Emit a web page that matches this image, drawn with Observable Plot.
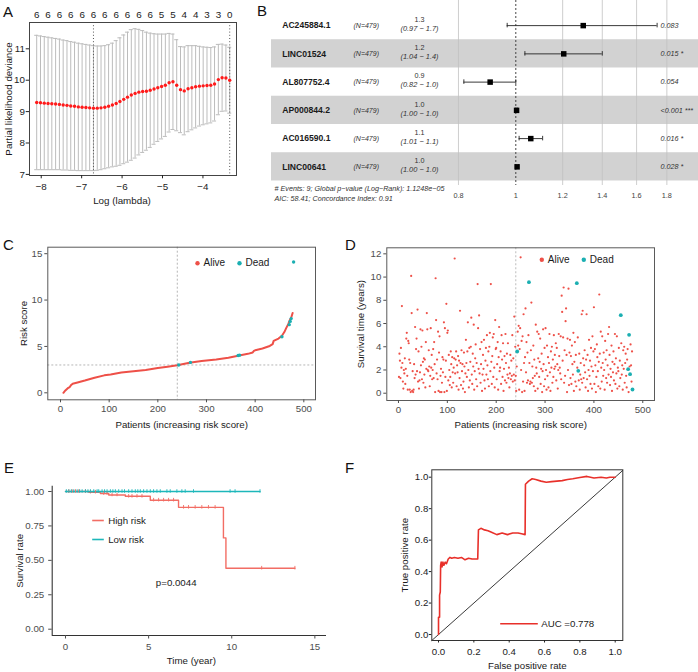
<!DOCTYPE html>
<html><head><meta charset="utf-8">
<script src="https://cdn.jsdelivr.net/npm/d3@7"></script>
<script src="https://cdn.jsdelivr.net/npm/@observablehq/plot@0.6"></script>
<style>
html,body{margin:0;padding:0;background:#fff;}
#fig{position:relative;width:698px;height:672px;overflow:hidden;font-family:"Liberation Sans",Arial,Helvetica,sans-serif;}
.panel{position:absolute;}
.tag{position:absolute;font-size:15px;line-height:15px;color:#111;}
</style></head><body>
<div id="fig"></div>
<script>
// ================= DATA =================
// Panel A: LASSO cross-validation
const logLambda = [-8.112,-8.018,-7.925,-7.831,-7.738,-7.644,-7.550,-7.457,-7.363,-7.270,-7.176,-7.082,-6.989,-6.895,-6.802,-6.708,-6.614,-6.521,-6.427,-6.334,-6.240,-6.146,-6.053,-5.959,-5.866,-5.772,-5.678,-5.585,-5.491,-5.398,-5.304,-5.210,-5.117,-5.023,-4.930,-4.836,-4.742,-4.649,-4.555,-4.462,-4.368,-4.274,-4.181,-4.087,-3.994,-3.900,-3.806,-3.713,-3.619,-3.526,-3.432,-3.338];
const cvMean = [9.29,9.28,9.27,9.26,9.25,9.24,9.23,9.21,9.20,9.18,9.17,9.15,9.14,9.13,9.12,9.11,9.11,9.12,9.14,9.17,9.21,9.26,9.32,9.39,9.46,9.53,9.58,9.62,9.64,9.65,9.68,9.72,9.76,9.80,9.84,9.92,9.95,9.84,9.70,9.66,9.73,9.76,9.79,9.81,9.82,9.83,9.84,9.88,10.02,10.08,10.07,10.00];
const cvSD = [2.14,2.13,2.12,2.11,2.10,2.09,2.08,2.07,2.06,2.05,2.04,2.03,2.02,2.01,2.00,1.99,1.98,1.97,1.96,1.96,1.97,2.00,2.03,2.05,2.07,2.08,2.06,2.00,1.94,1.88,1.82,1.76,1.71,1.67,1.63,1.57,1.52,1.45,1.37,1.40,1.37,1.34,1.31,1.27,1.24,1.22,1.20,1.18,1.12,1.07,1.05,1.05];
const nzeroLabels = ["6","6","6","6","6","6","6","6","6","6","6","5","5","4","4","3","3","0"];
const lambdaLines = [-6.708, -3.338];
const aTicksX = [-8,-7,-6,-5,-4];
const aTicksY = [7,8,9,10,11];

// Panel B: multivariate Cox forest plot
const forestNames = ["AC245884.1","LINC01524","AL807752.4","AP000844.2","AC016590.1","LINC00641"];
const forestN = ["(N=479)","(N=479)","(N=479)","(N=479)","(N=479)","(N=479)"];
const forestHR = [1.30, 1.205, 0.905, 1.003, 1.06, 1.005];
const forestLo = [0.967, 1.036, 0.817, 1.0, 1.013, 1.0];
const forestHi = [1.733, 1.40, 1.0, 1.006, 1.11, 1.01];
const forestHRText = ["1.3","1.2","0.9","1.0","1.1","1.0"];
const forestCIText = ["(0.97 − 1.7)","(1.04 − 1.4)","(0.82 − 1.0)","(1.00 − 1.0)","(1.01 − 1.1)","(1.00 − 1.0)"];
const forestP = ["0.083","0.015 *","0.054","<0.001 ***","0.016 *","0.028 *"];
const forestTicks = [0.8, 1, 1.2, 1.4, 1.6, 1.8];
const forestGrid = [0.8, 1.2, 1.4, 1.6, 1.8];
const forestFooter = ["# Events: 9; Global p−value (Log−Rank): 1.1248e−05", "AIC: 58.41; Concordance Index: 0.91"];

// Panel C: risk score curve
const riskRank = [6,10,15,19,22,25,35,50,70,90,103,125,150,175,200,220,240,265,290,320,345,365,385,395,398,415,430,436,438,448,455,460,464,468,471,474,477];
const riskScore = [0.0,0.25,0.5,0.62,0.85,0.98,1.12,1.32,1.62,1.88,1.98,2.18,2.32,2.45,2.68,2.82,2.98,3.25,3.43,3.6,3.78,4.0,4.2,4.35,4.55,4.78,5.05,5.25,5.6,5.85,6.15,6.55,7.0,7.4,7.8,8.1,8.6];
const deadRank = [243,267,365,368,455,470,472,474,479];
const deadScore = [3.0,3.28,4.02,4.06,6.05,7.35,7.7,8.0,14.1];
const deadTime = [3.59,9.56,9.47,1.93,6.72,2.07,5.03,1.64,0.32];
const cutoffRank = 240;
const cutoffScore = 3.0;
const statusLabels = ["Alive","Dead"];

// Panel D: survival time by patient rank (index + 1)
const survTime = [
 1.4,3.4,2.8,1.3,3.9,2.2,7.5,2.6,1.0,0.4,2.0,1.7,3.0,0.8,2.1,4.7,5.2,1.5,0.3,4.5,
 4.3,2.9,0.3,2.6,0.1,10.1,6.9,0.2,1.9,0.1,0.3,2.5,1.3,5.7,1.6,3.8,4.7,1.9,7.2,1.0,
 3.6,0.4,1.1,1.8,5.5,2.4,4.0,1.2,5.4,2.7,0.9,3.0,1.6,2.9,0.5,4.4,2.1,6.9,5.5,2.0,
 1.9,3.7,2.3,0.6,1.5,5.6,2.2,3.3,1.2,2.0,3.8,1.3,4.4,2.5,0.1,9.9,6.3,1.7,2.9,1.2,
 5.3,0.2,3.5,4.9,0.1,1.5,2.1,0.1,0.9,3.1,1.8,2.9,6.1,0.1,5.6,1.4,2.8,7.7,0.2,5.2,
 5.4,1.1,3.3,2.0,0.7,1.4,3.6,2.5,0.5,3.1,1.8,0.9,2.2,3.0,11.6,1.7,2.9,3.6,0.6,2.4,
 1.8,3.2,0.3,2.8,1.3,7.1,2.6,0.7,3.7,1.9,2.5,0.4,1.0,3.5,2.3,0.1,1.7,4.6,2.6,1.4,
 3.6,6.1,2.0,0.5,3.9,1.1,2.7,4.0,6.5,1.6,0.8,3.4,2.3,5.9,0.3,1.9,3.0,4.2,1.2,2.6,
 0.6,9.4,5.6,2.1,6.7,1.7,3.8,0.9,2.5,4.4,0.2,1.6,3.3,2.1,4.6,1.1,0.4,2.8,3.9,1.6,
 5.0,2.4,1.2,3.6,0.6,4.0,5.2,1.9,9.4,2.7,0.8,3.2,4.8,1.4,5.1,2.2,0.5,6.3,3.8,3.9,
 1.2,2.5,4.4,0.3,3.1,5.7,1.9,2.2,3.6,0.8,5.0,2.9,1.4,4.3,0.2,2.1,3.2,1.1,5.1,2.6,
 0.9,3.4,1.6,4.3,1.3,2.2,0.5,1.7,3.3,1.2,2.8,1.5,5.0,1.0,3.0,1.6,6.6,1.1,4.0,1.5,
 0.2,2.3,3.59,5.3,4.1,5.8,0.3,3.8,5.6,11.7,2.0,4.5,0.1,4.9,1.0,6.8,2.6,0.2,3.1,7.3,
 1.8,4.4,0.9,3.5,1.1,5.0,9.56,2.6,0.8,1.0,3.7,7.8,0.9,2.3,1.3,4.1,0.6,2.9,1.5,0.2,
 5.9,2.2,1.7,5.3,0.4,3.0,5.1,1.4,2.7,4.7,0.8,2.1,3.4,0.1,1.9,5.5,2.5,0.6,3.9,1.2,
 5.6,2.0,0.3,4.1,1.5,3.1,0.5,2.6,5.1,1.8,0.2,3.6,2.2,4.0,0.9,2.9,1.4,5.0,2.1,3.3,
 2.3,4.3,1.1,3.9,2.5,0.4,2.0,5.1,3.2,2.2,1.7,4.9,1.2,8.4,7.0,2.8,4.8,9.1,0.9,3.7,
 1.5,6.2,7.3,3.3,0.1,4.7,2.0,9.0,0.7,3.5,4.6,1.3,3.2,0.8,4.1,2.5,1.6,5.2,0.2,2.7,
 4.4,1.0,3.3,0.6,9.47,2.2,4.8,1.93,1.1,3.4,0.3,1.6,2.6,1.2,6.8,0.9,7.1,3.0,1.3,2.4,
 3.7,1.8,0.5,2.9,6.8,1.2,3.3,0.2,2.0,4.6,1.5,2.8,0.8,3.9,2.3,0.4,4.9,1.9,3.6,7.4,
 0.8,3.8,2.4,0.1,1.4,4.2,3.1,1.9,0.6,2.7,8.5,3.4,0.4,5.3,2.2,1.0,4.9,2.6,1.5,3.5,
 2.0,0.3,4.5,2.9,1.3,3.7,0.9,2.4,5.1,1.6,5.7,3.3,0.7,2.1,1.4,4.1,0.2,2.7,1.8,3.6,
 1.1,2.5,5.1,0.8,3.0,1.7,4.9,0.4,2.2,1.9,3.9,0.6,2.8,1.3,6.72,4.3,1.6,2.4,0.3,3.7,
 2.1,4.0,0.9,2.6,3.4,1.5,0.5,2.9,3.8,2.07,0.1,5.03,2.3,1.64,4.2,2.4,1.0,3.6,0.32
];

// Panel E: Kaplan-Meier
const highTime = [0, 1.4, 2.1, 2.6, 3.6, 5.1, 6.8, 9.5, 9.65, 13.8];
const highSurv = [1, 0.995, 0.985, 0.975, 0.965, 0.937, 0.885, 0.663, 0.443, 0.443];
const lowTime = [0, 11.7];
const lowSurv = [1, 1];
const highCensor = [0.2,0.4,0.6,0.8,1.2,1.5,1.8,2.3,2.5,2.8,3.1,3.8,4.0,4.3,4.6,5.3,5.6,5.9,6.2,6.5,7.1,7.4,7.8,8.2,8.6,9.0,11.8,13.8];
const lowCensor = [0.05,0.2,0.35,0.5,0.7,0.85,1.0,1.2,1.35,1.5,1.7,1.9,2.0,2.2,2.35,2.5,2.7,2.85,3.0,3.2,3.4,3.55,3.8,4.0,4.2,4.35,4.5,4.7,4.9,5.1,5.3,5.5,5.7,6.1,6.3,6.7,7.0,7.2,7.7,9.9,10.2,11.7];
const groupLabels = ["High risk","Low risk"];
const pValueText = "p=0.0044";

// Panel F: ROC
const rocFPR = [0,0,0.006,0.006,0.01,0.012,0.015,0.02,0.025,0.03,0.038,0.045,0.055,0.065,0.075,0.09,0.11,0.13,0.15,0.17,0.19,0.21,0.222,0.226,0.24,0.26,0.28,0.3,0.33,0.36,0.39,0.42,0.45,0.47,0.49,0.492,0.51,0.53,0.55,0.58,0.61,0.64,0.67,0.7,0.73,0.76,0.8,0.84,0.88,0.92,0.95,0.97,1.0];
const rocTPR = [0,0.11,0.11,0.25,0.27,0.44,0.46,0.43,0.46,0.44,0.46,0.45,0.48,0.49,0.485,0.49,0.485,0.49,0.475,0.485,0.48,0.48,0.48,0.665,0.675,0.665,0.66,0.65,0.635,0.645,0.635,0.645,0.645,0.64,0.635,0.955,0.975,0.99,0.985,0.975,0.968,0.972,0.975,0.978,0.985,0.99,0.998,1.005,0.995,1.0,0.995,1.0,1.0];
const aucText = "AUC =0.778";

// ================= STYLE / LAYOUT =================
const FONT = '"Liberation Sans", Arial, Helvetica, sans-serif';
const RED = "#EE5048", TEAL = "#1BAFB2";
const KM_RED = "#F26D64", KM_TEAL = "#1DB7BA";
const ROC_RED = "#E8302A";
const fig = document.getElementById("fig");
function style(size){ return {fontFamily: FONT, fontSize: size + "px", background: "transparent", overflow: "visible", color: "#1a1a1a"}; }
function place(svg, left, top){ const d = document.createElement("div"); d.className = "panel"; d.style.left = left + "px"; d.style.top = top + "px"; d.appendChild(svg); fig.appendChild(d); }
function tag(t, left, top){ const d = document.createElement("div"); d.className = "tag"; d.textContent = t; d.style.left = left + "px"; d.style.top = top + "px"; fig.appendChild(d); }
const lineSymbol = {draw(ctx, size){ const h = Math.sqrt(size / Math.PI); ctx.moveTo(-h, 0); ctx.lineTo(h, 0); }};
function stepAt(times, surv, t){ let s = surv[0]; for (let i = 0; i < times.length; i++) if (times[i] <= t) s = surv[i]; return s; }
const MID = {textAnchor: "middle", lineAnchor: "middle"};
function xTitle(label, dy, dx = 0){ return Plot.text([label], {text: d => d, frameAnchor: "bottom", dy, dx, ...MID, fill: "#1a1a1a"}); }
function yTitle(label, dx){ return Plot.text([label], {text: d => d, frameAnchor: "left", rotate: -90, dx, ...MID, fill: "#1a1a1a"}); }

// ================= PANEL A =================
const aPts = logLambda.map((x, i) => ({x, m: cvMean[i], lo: cvMean[i] - cvSD[i], hi: cvMean[i] + cvSD[i]}));
const capW = 0.05;
place(Plot.plot({
  width: 240, height: 212, marginLeft: 29, marginRight: 4, marginTop: 22, marginBottom: 37,
  style: style(9.8),
  x: {domain: [-8.29, -3.17], axis: null},
  y: {domain: [6.965, 11.838], axis: null},
  marks: [
    Plot.ruleX(aPts, {x: "x", y1: "lo", y2: "hi", stroke: "#bcbcbc", strokeWidth: 1}),
    Plot.ruleY(aPts, {y: "hi", x1: d => d.x - capW, x2: d => d.x + capW, stroke: "#bcbcbc"}),
    Plot.ruleY(aPts, {y: "lo", x1: d => d.x - capW, x2: d => d.x + capW, stroke: "#bcbcbc"}),
    Plot.ruleX(lambdaLines, {stroke: "#555", strokeDasharray: "1,2.2"}),
    Plot.dot(aPts, {x: "x", y: "m", r: 1.7, fill: "#ff1a1a"}),
    Plot.frame({stroke: "#444"}),
    Plot.axisX(aTicksX, {tickSize: 3.3, tickPadding: 4.5, label: null, color: "#222"}),
    Plot.axisY(aTicksY, {tickSize: 3.3, tickPadding: 1.2, label: null, color: "#222"}),
    Plot.text(nzeroLabels, {x: (d, i) => logLambda[i * 3], text: d => d, frameAnchor: "top", dy: -8, ...MID, fill: "#222"}),
    xTitle("Log (lambda)", 25, -11),
    yTitle("Partial likelihood deviance", -21)
  ]
}), 0, 0);

// ================= PANEL B =================
const rows = forestNames.map((name, i) => ({i, name, n: forestN[i], hr: forestHR[i], lo: forestLo[i], hi: forestHi[i], hrT: forestHRText[i], ciT: forestCIText[i], p: forestP[i]}));
const bX = [0.3865, 2.0358];
place(Plot.plot({
  width: 468, height: 215, marginLeft: 41, marginRight: 0, marginTop: 0, marginBottom: 30,
  style: style(7.3),
  x: {type: "log", domain: bX, axis: null},
  y: {domain: [-0.889, 5.66], reverse: true, axis: null},
  marks: [
    Plot.rect(rows.filter(d => d.i % 2 === 1), {x1: () => bX[0], x2: () => bX[1], y1: d => d.i - 0.5, y2: d => d.i + 0.5, fill: "#d2d2d2"}),
    Plot.ruleX(forestGrid, {stroke: "#c2c2c2", strokeWidth: 0.8}),
    Plot.ruleX([1], {stroke: "#333", strokeDasharray: "2,2", strokeWidth: 0.9}),
    Plot.ruleY(rows, {y: "i", x1: "lo", x2: "hi", stroke: "#222", strokeWidth: 0.9}),
    Plot.ruleX(rows, {x: "lo", y1: d => d.i - 0.08, y2: d => d.i + 0.08, stroke: "#222", strokeWidth: 0.9}),
    Plot.ruleX(rows, {x: "hi", y1: d => d.i - 0.08, y2: d => d.i + 0.08, stroke: "#222", strokeWidth: 0.9}),
    Plot.dot(rows, {x: "hr", y: "i", symbol: "square", r: 3.1, fill: "#000"}),
    Plot.text(rows, {y: "i", text: "name", frameAnchor: "left", dx: 10.7, textAnchor: "start", lineAnchor: "middle", fontWeight: "bold", fontSize: 8.6, fill: "#1a1a1a"}),
    Plot.text(rows, {y: "i", text: "n", frameAnchor: "left", dx: 82, textAnchor: "start", lineAnchor: "middle", fontStyle: "italic", fontSize: 7, fill: "#333"}),
    Plot.text(rows, {y: "i", text: "hrT", frameAnchor: "left", dx: 148, dy: -6, ...MID, fontSize: 7.2, fill: "#333"}),
    Plot.text(rows, {y: "i", text: "ciT", frameAnchor: "left", dx: 148, dy: 2.8, ...MID, fontStyle: "italic", fontSize: 7.4, fill: "#333"}),
    Plot.text(rows, {y: "i", text: "p", frameAnchor: "left", dx: 389, textAnchor: "start", lineAnchor: "middle", fontStyle: "italic", fontSize: 7.2, fill: "#333"}),
    Plot.text(forestTicks, {x: d => d, text: d => String(d), frameAnchor: "bottom", dy: 10, ...MID, fontSize: 7.3, fill: "#444"}),
    Plot.text([forestFooter[0]], {text: d => d, frameAnchor: "bottom-left", dx: 3, dy: 3.5, textAnchor: "start", lineAnchor: "middle", fontStyle: "italic", fontSize: 7.2, fill: "#333"}),
    Plot.text([forestFooter[1]], {text: d => d, frameAnchor: "bottom-left", dx: 3, dy: 13.5, textAnchor: "start", lineAnchor: "middle", fontStyle: "italic", fontSize: 7.2, fill: "#333"})
  ]
}), 230, 0);

// ================= PANEL C =================
const riskCurve = riskRank.map((r, i) => ({r, s: riskScore[i]}));
const deadC = deadRank.map((r, i) => ({r, s: deadScore[i]}));
function legendDots(dxs, dy, colors){
  return statusLabels.flatMap((lab, i) => [
    Plot.dot([lab], {frameAnchor: "top-left", dx: dxs[i], dy, r: 2.2, fill: colors[i]}),
    Plot.text([lab], {frameAnchor: "top-left", dx: dxs[i] + 6, dy, text: d => d, textAnchor: "start", lineAnchor: "middle", fontSize: 10, fill: "#1a1a1a"})
  ]);
}
place(Plot.plot({
  width: 349, height: 225, marginLeft: 47.3, marginRight: 34, marginTop: 31.7, marginBottom: 40.7,
  style: style(9.7),
  x: {domain: [-26.1, 524], axis: null},
  y: {domain: [-0.755, 15.7], axis: null},
  marks: [
    Plot.ruleX([cutoffRank], {stroke: "#b5b5b5", strokeDasharray: "2,2"}),
    Plot.ruleY([cutoffScore], {stroke: "#b5b5b5", strokeDasharray: "2,2"}),
    Plot.line(riskCurve, {x: "r", y: "s", stroke: RED, strokeWidth: 2}),
    Plot.dot(deadC, {x: "r", y: "s", r: 1.7, fill: TEAL}),
    Plot.frame({stroke: "#5a5a5a"}),
    Plot.axisX([0,100,200,300,400,500], {tickSize: 3, tickPadding: 2.5, label: null, color: "#4d4d4d"}),
    Plot.axisY([0,5,10,15], {tickSize: 3, tickPadding: 2.5, label: null, color: "#4d4d4d"}),
    ...legendDots([149.7, 191.7], 16, [RED, TEAL]),
    xTitle("Patients (increasing risk score)", 25),
    yTitle("Risk score", -24.3)
  ]
}), 0, 215);

// ================= PANEL D =================
const deadSet = new Set(deadRank);
const aliveD = survTime.map((t, i) => ({r: i + 1, t})).filter(d => !deadSet.has(d.r));
const deadD = deadRank.map((r, i) => ({r, t: deadTime[i]}));
place(Plot.plot({
  width: 349, height: 225, marginLeft: 37.3, marginRight: 44, marginTop: 32.3, marginBottom: 40,
  style: style(9.7),
  x: {domain: [-23.9, 524], axis: null},
  y: {domain: [-0.628, 12.52], axis: null},
  marks: [
    Plot.ruleX([cutoffRank], {stroke: "#c8c8c8", strokeDasharray: "2,2", strokeWidth: 1.2}),
    Plot.dot(aliveD, {x: "r", y: "t", r: 1.1, fill: RED}),
    Plot.dot(deadD, {x: "r", y: "t", r: 1.9, fill: TEAL}),
    Plot.frame({stroke: "#5a5a5a"}),
    Plot.axisX([0,100,200,300,400,500], {tickSize: 3, tickPadding: 2.5, label: null, color: "#4d4d4d"}),
    Plot.axisY([0,2,4,6,8,10,12], {tickSize: 3, tickPadding: 2.5, label: null, color: "#4d4d4d"}),
    ...legendDots([155, 197], 12, [RED, TEAL]),
    xTitle("Patients (increasing risk score)", 24.3),
    yTitle("Survival time (years)", -25.6)
  ]
}), 349, 215);

// ================= PANEL E =================
const highKM = highTime.map((t, i) => ({t, s: highSurv[i]}));
const lowKM = lowTime.map((t, i) => ({t, s: lowSurv[i]}));
const highC = highCensor.map(t => ({t, s: stepAt(highTime, highSurv, t)}));
const lowC = lowCensor.map(t => ({t, s: stepAt(lowTime, lowSurv, t)}));
const eX = [-0.8, 15.7], eY = [-0.0458, 1.0385];
const kmColors = [KM_RED, KM_TEAL];
place(Plot.plot({
  width: 349, height: 232, marginLeft: 51.7, marginRight: 23, marginTop: 45.7, marginBottom: 37,
  style: style(9.7),
  x: {domain: eX, axis: null},
  y: {domain: eY, axis: null},
  marks: [
    Plot.ruleX([eX[0]], {stroke: "#333", strokeWidth: 1.1}),
    Plot.ruleY([eY[0]], {stroke: "#333", strokeWidth: 1.1}),
    Plot.line(highKM, {x: "t", y: "s", curve: "step-after", stroke: KM_RED, strokeWidth: 1.4}),
    Plot.line(lowKM, {x: "t", y: "s", curve: "step-after", stroke: KM_TEAL, strokeWidth: 1.4}),
    Plot.ruleX(highC, {x: "t", y1: d => d.s - 0.013, y2: d => d.s + 0.013, stroke: KM_RED, strokeWidth: 0.9}),
    Plot.ruleX(lowC, {x: "t", y1: d => d.s - 0.013, y2: d => d.s + 0.013, stroke: KM_TEAL, strokeWidth: 0.9}),
    Plot.axisX([0,5,10,15], {tickSize: 3.5, tickPadding: 4.5, label: null, color: "#4d4d4d"}),
    Plot.axisY([0,0.25,0.5,0.75,1], {tickSize: 3.5, tickPadding: 4.5, label: null, tickFormat: d3.format(".2f"), color: "#4d4d4d"}),
    ...groupLabels.flatMap((lab, i) => [
      Plot.dot([lab], {frameAnchor: "top-left", dx: 45.8, dy: 34.3 + 19 * i, r: 5.8, symbol: lineSymbol, stroke: kmColors[i], strokeWidth: 1.6, fill: "none"}),
      Plot.text([lab], {frameAnchor: "top-left", dx: 56, dy: 34.3 + 19 * i, text: d => d, textAnchor: "start", lineAnchor: "middle", fill: "#1a1a1a"})
    ]),
    Plot.text([pValueText], {text: d => d, frameAnchor: "top-left", dx: 124, dy: 96.6, ...MID, fill: "#1a1a1a"}),
    xTitle("Time (year)", 25, 2),
    yTitle("Survival rate", -32.7)
  ]
}), 0, 440);

// ================= PANEL F =================
const roc = rocFPR.map((f, i) => ({f, t: rocTPR[i]}));
const fX = [-0.038, 1.043], fY = [-0.038, 1.047];
const diag = [fX[0], fX[1]].map(v => ({f: v, t: v}));
place(Plot.plot({
  width: 349, height: 232, marginLeft: 82.3, marginRight: 75.7, marginTop: 29.3, marginBottom: 32,
  style: style(9.7),
  x: {domain: fX, axis: null},
  y: {domain: fY, axis: null},
  marks: [
    Plot.line(diag, {x: "f", y: "t", stroke: "#222", strokeWidth: 0.9}),
    Plot.line(roc, {x: "f", y: "t", stroke: ROC_RED, strokeWidth: 1.6}),
    Plot.frame({stroke: "#333"}),
    Plot.axisX([0,0.2,0.4,0.6,0.8,1], {tickSize: 2.5, tickPadding: 5.5, label: null, tickFormat: d3.format(".1f"), color: "#222"}),
    Plot.axisY([0,0.2,0.4,0.6,0.8,1], {tickSize: 2.5, tickPadding: 1, label: null, tickFormat: d3.format(".1f"), color: "#222"}),
    Plot.dot([aucText], {frameAnchor: "top-left", dx: 87.2, dy: 154, r: 18.8, symbol: lineSymbol, stroke: ROC_RED, strokeWidth: 1.6, fill: "none"}),
    Plot.text([aucText], {text: d => d, frameAnchor: "top-left", dx: 109.4, dy: 154, textAnchor: "start", lineAnchor: "middle", fill: "#1a1a1a"}),
    xTitle("False positive rate", 25),
    yTitle("True positive rate", -27.3)
  ]
}), 349, 440);

// ================= PANEL TAGS =================
tag("A", 3, 3.5); tag("B", 257, 3); tag("C", 3, 236.5); tag("D", 345, 236.5); tag("E", 4, 459.5); tag("F", 345, 459.5);
</script>
</body></html>
